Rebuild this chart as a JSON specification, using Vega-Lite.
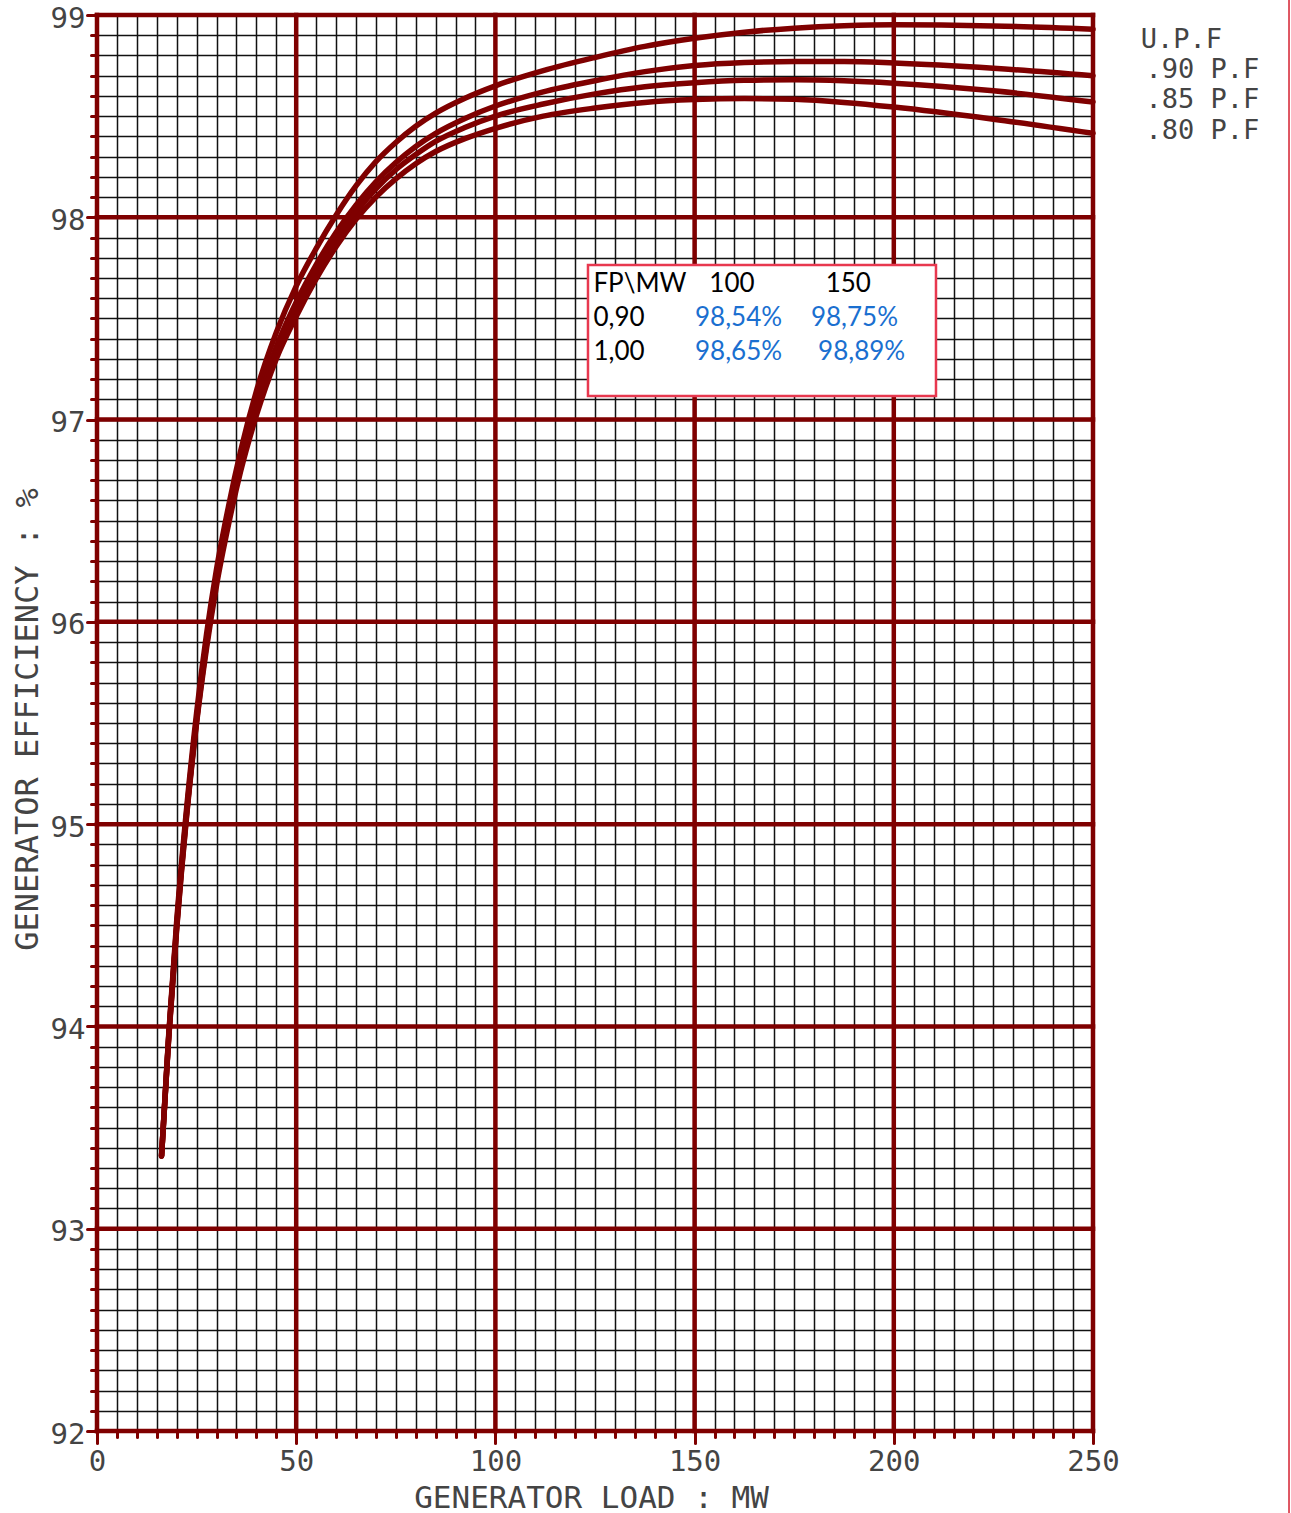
{
  "$schema": "https://vega.github.io/schema/vega-lite/v6.json",
  "width": 996,
  "height": 1416,
  "autosize": {"type": "none"},
  "padding": {"left": 97, "top": 15, "right": 198, "bottom": 82},
  "background": "white",
  "config": {"view": {"stroke": null}},
  "resolve": {"axis": {"x": "independent", "y": "independent"}},
  "datasets": {
    "vmajor": [{"v": 0}, {"v": 50}, {"v": 100}, {"v": 150}, {"v": 200}, {"v": 250}],
    "hmajor": [{"v": 92}, {"v": 93}, {"v": 94}, {"v": 95}, {"v": 96}, {"v": 97}, {"v": 98}, {"v": 99}],
    "curves": [
      {"pf": "U.P.F", "mw": 16.2, "eff": 93.36}, {"pf": "U.P.F", "mw": 18, "eff": 93.96}, {"pf": "U.P.F", "mw": 20, "eff": 94.52},
      {"pf": "U.P.F", "mw": 22.5, "eff": 95.08}, {"pf": "U.P.F", "mw": 25, "eff": 95.55}, {"pf": "U.P.F", "mw": 27.5, "eff": 95.94},
      {"pf": "U.P.F", "mw": 30, "eff": 96.26}, {"pf": "U.P.F", "mw": 33, "eff": 96.57}, {"pf": "U.P.F", "mw": 36, "eff": 96.84},
      {"pf": "U.P.F", "mw": 40, "eff": 97.14}, {"pf": "U.P.F", "mw": 45, "eff": 97.43}, {"pf": "U.P.F", "mw": 50, "eff": 97.66},
      {"pf": "U.P.F", "mw": 55, "eff": 97.845}, {"pf": "U.P.F", "mw": 60, "eff": 98.01}, {"pf": "U.P.F", "mw": 65, "eff": 98.155},
      {"pf": "U.P.F", "mw": 70, "eff": 98.275}, {"pf": "U.P.F", "mw": 75, "eff": 98.37}, {"pf": "U.P.F", "mw": 80, "eff": 98.45},
      {"pf": "U.P.F", "mw": 85, "eff": 98.515}, {"pf": "U.P.F", "mw": 92.5, "eff": 98.59}, {"pf": "U.P.F", "mw": 100, "eff": 98.65},
      {"pf": "U.P.F", "mw": 112, "eff": 98.725}, {"pf": "U.P.F", "mw": 125, "eff": 98.79}, {"pf": "U.P.F", "mw": 137.5, "eff": 98.845},
      {"pf": "U.P.F", "mw": 150, "eff": 98.885}, {"pf": "U.P.F", "mw": 162.5, "eff": 98.915}, {"pf": "U.P.F", "mw": 175, "eff": 98.935},
      {"pf": "U.P.F", "mw": 187.5, "eff": 98.947}, {"pf": "U.P.F", "mw": 200, "eff": 98.952}, {"pf": "U.P.F", "mw": 225, "eff": 98.946},
      {"pf": "U.P.F", "mw": 250, "eff": 98.93},

      {"pf": ".90", "mw": 16.2, "eff": 93.36}, {"pf": ".90", "mw": 18, "eff": 93.95}, {"pf": ".90", "mw": 20, "eff": 94.5},
      {"pf": ".90", "mw": 22.5, "eff": 95.06}, {"pf": ".90", "mw": 25, "eff": 95.52}, {"pf": ".90", "mw": 27.5, "eff": 95.91},
      {"pf": ".90", "mw": 30, "eff": 96.22}, {"pf": ".90", "mw": 33, "eff": 96.53}, {"pf": ".90", "mw": 36, "eff": 96.79},
      {"pf": ".90", "mw": 40, "eff": 97.08}, {"pf": ".90", "mw": 45, "eff": 97.36}, {"pf": ".90", "mw": 50, "eff": 97.58},
      {"pf": ".90", "mw": 55, "eff": 97.765}, {"pf": ".90", "mw": 60, "eff": 97.925}, {"pf": ".90", "mw": 65, "eff": 98.06},
      {"pf": ".90", "mw": 70, "eff": 98.175}, {"pf": ".90", "mw": 75, "eff": 98.27}, {"pf": ".90", "mw": 80, "eff": 98.35},
      {"pf": ".90", "mw": 85, "eff": 98.415}, {"pf": ".90", "mw": 92.5, "eff": 98.49}, {"pf": ".90", "mw": 100, "eff": 98.55},
      {"pf": ".90", "mw": 112, "eff": 98.62}, {"pf": ".90", "mw": 125, "eff": 98.675}, {"pf": ".90", "mw": 137.5, "eff": 98.72},
      {"pf": ".90", "mw": 150, "eff": 98.75}, {"pf": ".90", "mw": 162.5, "eff": 98.765}, {"pf": ".90", "mw": 175, "eff": 98.77},
      {"pf": ".90", "mw": 187.5, "eff": 98.77}, {"pf": ".90", "mw": 200, "eff": 98.763}, {"pf": ".90", "mw": 225, "eff": 98.737},
      {"pf": ".90", "mw": 250, "eff": 98.7},

      {"pf": ".85", "mw": 16.2, "eff": 93.36}, {"pf": ".85", "mw": 18, "eff": 93.95}, {"pf": ".85", "mw": 20, "eff": 94.49},
      {"pf": ".85", "mw": 22.5, "eff": 95.05}, {"pf": ".85", "mw": 25, "eff": 95.51}, {"pf": ".85", "mw": 27.5, "eff": 95.89},
      {"pf": ".85", "mw": 30, "eff": 96.2}, {"pf": ".85", "mw": 33, "eff": 96.51}, {"pf": ".85", "mw": 36, "eff": 96.77},
      {"pf": ".85", "mw": 40, "eff": 97.05}, {"pf": ".85", "mw": 45, "eff": 97.33}, {"pf": ".85", "mw": 50, "eff": 97.55},
      {"pf": ".85", "mw": 55, "eff": 97.735}, {"pf": ".85", "mw": 60, "eff": 97.89}, {"pf": ".85", "mw": 65, "eff": 98.025},
      {"pf": ".85", "mw": 70, "eff": 98.14}, {"pf": ".85", "mw": 75, "eff": 98.235}, {"pf": ".85", "mw": 80, "eff": 98.31},
      {"pf": ".85", "mw": 85, "eff": 98.375}, {"pf": ".85", "mw": 92.5, "eff": 98.445}, {"pf": ".85", "mw": 100, "eff": 98.5},
      {"pf": ".85", "mw": 112, "eff": 98.56}, {"pf": ".85", "mw": 125, "eff": 98.61}, {"pf": ".85", "mw": 137.5, "eff": 98.645},
      {"pf": ".85", "mw": 150, "eff": 98.665}, {"pf": ".85", "mw": 162.5, "eff": 98.677}, {"pf": ".85", "mw": 175, "eff": 98.68},
      {"pf": ".85", "mw": 187.5, "eff": 98.675}, {"pf": ".85", "mw": 200, "eff": 98.663}, {"pf": ".85", "mw": 225, "eff": 98.625},
      {"pf": ".85", "mw": 250, "eff": 98.57},

      {"pf": ".80", "mw": 16.2, "eff": 93.36}, {"pf": ".80", "mw": 18, "eff": 93.94}, {"pf": ".80", "mw": 20, "eff": 94.48},
      {"pf": ".80", "mw": 22.5, "eff": 95.04}, {"pf": ".80", "mw": 25, "eff": 95.5}, {"pf": ".80", "mw": 27.5, "eff": 95.87},
      {"pf": ".80", "mw": 30, "eff": 96.18}, {"pf": ".80", "mw": 33, "eff": 96.48}, {"pf": ".80", "mw": 36, "eff": 96.74},
      {"pf": ".80", "mw": 40, "eff": 97.02}, {"pf": ".80", "mw": 45, "eff": 97.3}, {"pf": ".80", "mw": 50, "eff": 97.51},
      {"pf": ".80", "mw": 55, "eff": 97.695}, {"pf": ".80", "mw": 60, "eff": 97.855}, {"pf": ".80", "mw": 65, "eff": 97.99},
      {"pf": ".80", "mw": 70, "eff": 98.1}, {"pf": ".80", "mw": 75, "eff": 98.19}, {"pf": ".80", "mw": 80, "eff": 98.265},
      {"pf": ".80", "mw": 85, "eff": 98.325}, {"pf": ".80", "mw": 92.5, "eff": 98.39}, {"pf": ".80", "mw": 100, "eff": 98.44},
      {"pf": ".80", "mw": 112, "eff": 98.5}, {"pf": ".80", "mw": 125, "eff": 98.54}, {"pf": ".80", "mw": 137.5, "eff": 98.568},
      {"pf": ".80", "mw": 150, "eff": 98.582}, {"pf": ".80", "mw": 162.5, "eff": 98.587}, {"pf": ".80", "mw": 175, "eff": 98.583},
      {"pf": ".80", "mw": 187.5, "eff": 98.568}, {"pf": ".80", "mw": 200, "eff": 98.545}, {"pf": ".80", "mw": 225, "eff": 98.485},
      {"pf": ".80", "mw": 250, "eff": 98.415}
    ],
    "table": [
      {"t": "FP\\MW", "mw": 124.6, "eff": 97.632, "kind": "head"},
      {"t": "100", "mw": 153.7, "eff": 97.632, "kind": "head"},
      {"t": "150", "mw": 182.9, "eff": 97.632, "kind": "head"},
      {"t": "0,90", "mw": 124.6, "eff": 97.463, "kind": "head"},
      {"t": "98,54%", "mw": 150.1, "eff": 97.463, "kind": "val"},
      {"t": "98,75%", "mw": 179.2, "eff": 97.463, "kind": "val"},
      {"t": "1,00", "mw": 124.6, "eff": 97.295, "kind": "head"},
      {"t": "98,65%", "mw": 150.1, "eff": 97.295, "kind": "val"},
      {"t": "98,89%", "mw": 181.0, "eff": 97.295, "kind": "val"}
    ],
    "pflabels": [
      {"t": "U.P.F", "mw": 262.0, "eff": 98.837},
      {"t": ".90 P.F", "mw": 263.2, "eff": 98.689},
      {"t": ".85 P.F", "mw": 263.2, "eff": 98.54},
      {"t": ".80 P.F", "mw": 263.2, "eff": 98.387}
    ]
  },
  "layer": [
    {
      "data": {"name": "curves"},
      "mark": {"type": "line", "opacity": 0},
      "encoding": {
        "x": {
          "field": "mw", "type": "quantitative",
          "scale": {"domain": [0, 250], "nice": false, "zero": false},
          "axis": {
            "orient": "bottom",
            "values": [0,5,10,15,20,25,30,35,40,45,50,55,60,65,70,75,80,85,90,95,100,105,110,115,120,125,130,135,140,145,150,155,160,165,170,175,180,185,190,195,200,205,210,215,220,225,230,235,240,245,250],
            "tickCount": 500,
            "grid": true, "gridColor": "#111111", "gridWidth": 1.5,
            "domain": false,
            "tickColor": "#7f0000", "tickWidth": 3, "tickCap": "round",
            "tickSize": {"condition": {"test": "datum.value % 50 === 0", "value": 12}, "value": 6},
            "labelExpr": "datum.value % 50 === 0 ? format(datum.value, 'd') : ''",
            "labelFont": "DejaVu Sans Mono", "labelFontSize": 29, "labelColor": "#444444",
            "labelPadding": 4, "labelFlush": false, "labelOverlap": false, "labelBound": false,
            "title": "GENERATOR LOAD : MW",
            "titleFont": "DejaVu Sans Mono", "titleFontSize": 31, "titleFontWeight": "normal", "titleColor": "#444444",
            "titleX": 494, "titleY": 76, "titleBaseline": "alphabetic", "titleAlign": "center"
          }
        },
        "y": {
          "field": "eff", "type": "quantitative",
          "scale": {"domain": [92, 99], "nice": false, "zero": false},
          "axis": {
            "orient": "left",
            "values": [92,92.1,92.2,92.3,92.4,92.5,92.6,92.7,92.8,92.9,93,93.1,93.2,93.3,93.4,93.5,93.6,93.7,93.8,93.9,94,94.1,94.2,94.3,94.4,94.5,94.6,94.7,94.8,94.9,95,95.1,95.2,95.3,95.4,95.5,95.6,95.7,95.8,95.9,96,96.1,96.2,96.3,96.4,96.5,96.6,96.7,96.8,96.9,97,97.1,97.2,97.3,97.4,97.5,97.6,97.7,97.8,97.9,98,98.1,98.2,98.3,98.4,98.5,98.6,98.7,98.8,98.9,99],
            "tickCount": 500,
            "grid": true, "gridColor": "#111111", "gridWidth": 1.5,
            "domain": false,
            "tickColor": "#7f0000", "tickWidth": 3, "tickCap": "round",
            "tickSize": {"condition": {"test": "abs(datum.value - round(datum.value)) < 0.001", "value": 10}, "value": 6},
            "labelExpr": "abs(datum.value - round(datum.value)) < 0.001 ? format(datum.value, 'd') : ''",
            "labelFont": "DejaVu Sans Mono", "labelFontSize": 29, "labelColor": "#444444",
            "labelPadding": 2, "labelOffset": 3, "labelOverlap": false, "labelBound": false, "labelFlush": false,
            "title": "GENERATOR EFFICIENCY : %",
            "titleFont": "DejaVu Sans Mono", "titleFontSize": 32, "titleFontWeight": "normal", "titleColor": "#444444",
            "titleX": -60, "titleY": 704, "titleBaseline": "alphabetic", "titleAlign": "center", "titleAngle": -90
          }
        },
        "detail": {"field": "pf"}
      }
    },
    {
      "data": {"name": "vmajor"},
      "mark": {"type": "rule", "color": "#7f0000", "strokeWidth": 4.5, "strokeCap": "square"},
      "encoding": {
        "x": {"field": "v", "type": "quantitative", "axis": null},
        "y": {"datum": 92, "axis": null},
        "y2": {"datum": 99}
      }
    },
    {
      "data": {"name": "hmajor"},
      "mark": {"type": "rule", "color": "#7f0000", "strokeWidth": 4.5, "strokeCap": "square"},
      "encoding": {
        "y": {"field": "v", "type": "quantitative", "axis": null},
        "x": {"datum": 0, "axis": null},
        "x2": {"datum": 250}
      }
    },
    {
      "data": {"name": "curves"},
      "mark": {"type": "line", "color": "#7f0000", "strokeWidth": 5.5, "interpolate": "monotone", "strokeCap": "round", "strokeJoin": "round"},
      "encoding": {
        "x": {"field": "mw", "type": "quantitative", "axis": null},
        "y": {"field": "eff", "type": "quantitative", "axis": null},
        "detail": {"field": "pf"}
      }
    },
    {
      "data": {"values": [{}]},
      "mark": {"type": "rect", "fill": "white", "stroke": "#e8384f", "strokeWidth": 2.5},
      "encoding": {
        "x": {"datum": 123.24, "axis": null},
        "x2": {"datum": 210.59},
        "y": {"datum": 97.764, "axis": null},
        "y2": {"datum": 97.1165}
      }
    },
    {
      "data": {"name": "table"},
      "mark": {"type": "text", "font": "Lato", "fontSize": 26, "align": "left", "baseline": "alphabetic"},
      "encoding": {
        "x": {"field": "mw", "type": "quantitative", "axis": null},
        "y": {"field": "eff", "type": "quantitative", "axis": null},
        "text": {"field": "t"},
        "color": {"field": "kind", "type": "nominal", "scale": {"domain": ["head", "val"], "range": ["#000000", "#1a6fd0"]}, "legend": null}
      }
    },
    {
      "data": {"name": "pflabels"},
      "mark": {"type": "text", "font": "DejaVu Sans Mono", "fontSize": 27, "align": "left", "baseline": "alphabetic", "color": "#444444"},
      "encoding": {
        "x": {"field": "mw", "type": "quantitative", "axis": null},
        "y": {"field": "eff", "type": "quantitative", "axis": null},
        "text": {"field": "t"}
      }
    },
    {
      "data": {"values": [{}]},
      "mark": {"type": "rule", "color": "#d42030", "strokeWidth": 1.5},
      "encoding": {
        "x": {"datum": 299.2, "axis": null},
        "y": {"datum": 91.59, "axis": null},
        "y2": {"datum": 99.08}
      }
    }
  ]
}
